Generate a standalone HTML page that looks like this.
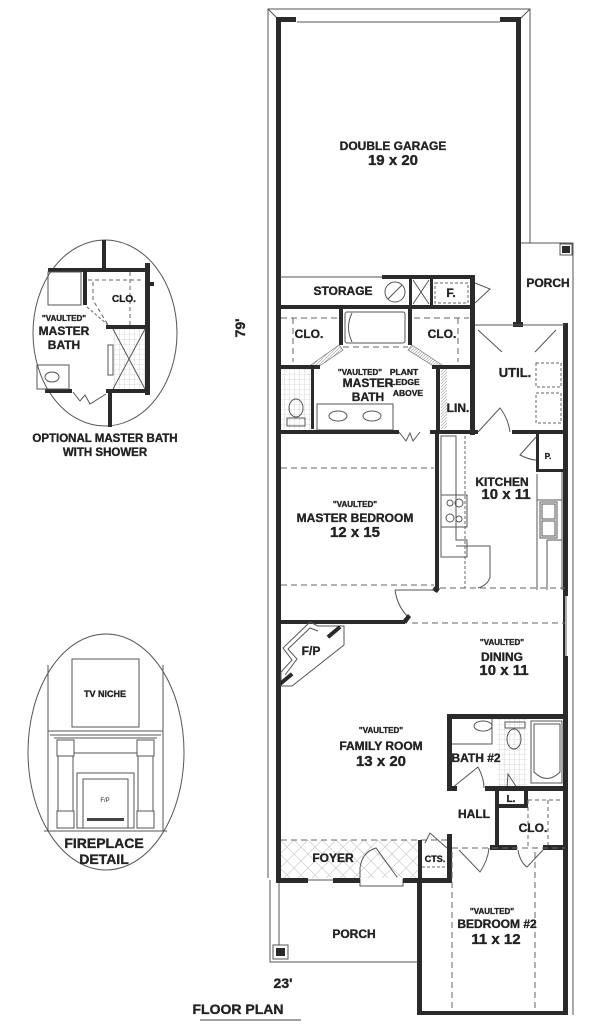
<!DOCTYPE html>
<html><head><meta charset="utf-8"><style>
html,body{margin:0;padding:0;background:#fff;width:600px;height:1029px;overflow:hidden}
svg{display:block}
text{font-family:"Liberation Sans",Arial,sans-serif;font-weight:bold;fill:#222;text-anchor:middle;stroke:#222;stroke-width:0.35}
.w{fill:#2a2a2a}
.t{fill:none;stroke:#555;stroke-width:1}
.d{fill:none;stroke:#666;stroke-width:1;stroke-dasharray:6 4}
</style></head><body>
<svg width="600" height="1029" viewBox="0 0 600 1029" xmlns="http://www.w3.org/2000/svg">
<defs>
<pattern id="grid" width="5" height="5" patternUnits="userSpaceOnUse"><path d="M5 0V5H0" fill="none" stroke="#bbb" stroke-width="0.6"/></pattern>
<pattern id="xh" width="14" height="14" patternUnits="userSpaceOnUse"><path d="M0 0L14 14M14 0L0 14" stroke="#ccc" stroke-width="0.7"/></pattern>
<pattern id="hat" width="3" height="3" patternUnits="userSpaceOnUse"><path d="M0 3L3 0" stroke="#aaa" stroke-width="0.7"/></pattern>
</defs>

<path class="t" d="M268 878V9H530V243"/>
<path class="t" d="M268 9L278 19M530 9L520 19"/>
<line class="t" x1="297" y1="22" x2="500" y2="22"/>
<path class="t" d="M521 243H573V325"/>
<rect x="560" y="244" width="12" height="11" class="t"/><rect x="562" y="246" width="8" height="7" class="w"/>
<line class="t" x1="573" y1="325" x2="573" y2="1015"/>

<rect class="w" x="276" y="17" width="5" height="864"/>
<rect class="w" x="276" y="17" width="20" height="5"/>
<rect class="w" x="500" y="17" width="21" height="5"/>
<rect class="w" x="516" y="17" width="5" height="310"/>
<rect class="w" x="513" y="322" width="10" height="5"/>

<line class="t" x1="280" y1="277" x2="382" y2="277"/>
<rect class="w" x="382" y="275" width="93" height="4"/>
<rect class="w" x="278" y="305" width="197" height="4"/>
<circle cx="395" cy="292" r="10" class="t"/><line class="t" x1="388" y1="299" x2="402" y2="285"/>
<rect class="w" x="409" y="277" width="3" height="30"/>
<rect class="w" x="430" y="277" width="3" height="30"/>
<path class="t" d="M413 280L429 304M429 280L413 304"/>
<rect class="d" x="435" y="283" width="33" height="20" style="stroke-dasharray:3 2"/>
<path class="t" d="M475 283L490 289L475 303"/>

<rect class="w" x="470" y="277" width="5" height="158"/>
<rect class="w" x="339" y="307" width="4" height="38"/>
<rect class="w" x="408" y="307" width="4" height="38"/>
<rect class="t" x="345" y="312" width="60" height="31" rx="2"/>
<path class="t" d="M352 313Q345 327 352 342"/>
<line class="d" x1="343" y1="347" x2="408" y2="347"/>
<line class="d" x1="281" y1="318" x2="337" y2="318"/><line class="d" x1="414" y1="318" x2="469" y2="318"/>
<line class="d" x1="293" y1="318" x2="293" y2="362"/><line class="d" x1="458" y1="318" x2="458" y2="362"/>
<path fill="url(#hat)" stroke="#777" stroke-width="0.7" d="M339 345L308 367L318 367L343 350Z"/>
<path fill="url(#hat)" stroke="#777" stroke-width="0.7" d="M412 345L445 367L435 367L408 350Z"/>
<text x="309" y="338" font-size="12">CLO.</text>
<text x="442" y="338" font-size="12">CLO.</text>
<rect class="w" x="278" y="365" width="42" height="4"/>
<rect x="281" y="369" width="30" height="60" fill="url(#grid)"/>
<rect class="w" x="311" y="369" width="3" height="60"/>
<ellipse class="t" cx="296" cy="408" rx="7" ry="9"/><rect class="t" x="287" y="418" width="18" height="8"/>
<rect class="w" x="432" y="365" width="43" height="4"/>
<rect class="w" x="436" y="365" width="4" height="66"/>
<rect x="441" y="369" width="6" height="60" fill="url(#hat)"/>
<text x="458" y="412" font-size="12">LIN.</text>
<rect class="t" x="317" y="404" width="76" height="26"/>
<ellipse class="t" cx="338" cy="416" rx="9" ry="5"/><ellipse class="t" cx="372" cy="416" rx="9" ry="5"/>
<text x="360" y="375" font-size="8">"VAULTED"</text>
<text x="368" y="387" font-size="12">MASTER</text>
<text x="368" y="401" font-size="12">BATH</text>
<text x="404" y="375" font-size="8.5">PLANT</text>
<text x="405" y="385" font-size="8.5">LEDGE</text>
<text x="408" y="396" font-size="8.5">ABOVE</text>
<rect class="w" x="278" y="430" width="121" height="4"/>
<rect class="w" x="430" y="430" width="48" height="4"/>
<rect class="w" x="512" y="430" width="55" height="4"/>
<path class="t" d="M399 432L406 441L410 433L413 441L420 432"/>
<text x="343" y="295" font-size="12">STORAGE</text>
<text x="451" y="297" font-size="12">F.</text>

<rect class="w" x="563" y="323" width="5" height="380"/>
<line class="t" x1="475" y1="325" x2="565" y2="325"/>
<path class="t" d="M478 330L502 352M556 330L535 352M478 432L500 408Q508 418 510 432"/>
<text x="515" y="377" font-size="13">UTIL.</text>
<rect class="d" x="536" y="363" width="25" height="24" style="stroke-dasharray:3 2"/>
<rect class="d" x="536" y="393" width="25" height="30" style="stroke-dasharray:3 2"/>

<text x="393" y="150" font-size="12">DOUBLE GARAGE</text>
<text x="393" y="165" font-size="15">19 x 20</text>

<rect class="w" x="435" y="432" width="4" height="157"/>
<path class="w" d="M435 586L440 589L437 593L432 590Z"/>
<path class="t" d="M441 436V557H467V540H456V436Z"/>
<line class="d" x1="465" y1="436" x2="465" y2="588" style="stroke-dasharray:3 2"/>
<path class="t" d="M456 546H490V577Q488 585 478 588"/>
<rect class="t" x="441" y="495" width="26" height="32"/>
<circle class="t" cx="450" cy="503" r="3"/><circle class="t" cx="459" cy="503" r="4"/>
<circle class="t" cx="450" cy="518" r="4"/><circle class="t" cx="459" cy="519" r="3"/>
<line class="d" x1="440" y1="588" x2="565" y2="588"/>
<rect class="w" x="536" y="434" width="3" height="37"/>
<rect class="w" x="536" y="469" width="29" height="3"/>
<path class="t" d="M536 437L520 455Q530 460 536 460"/>
<text x="548" y="459" font-size="8">P.</text>
<path class="t" d="M537 474V590M537 500H562M562 472V590M547 540V590M547 540H562"/>
<rect class="t" x="540" y="502" width="17" height="36"/>
<rect class="t" x="542" y="504" width="13" height="15"/><rect class="t" x="542" y="521" width="13" height="15"/>
<text x="502" y="486" font-size="12">KITCHEN</text>
<text x="506" y="499" font-size="15">10 x 11</text>

<line class="d" x1="281" y1="468" x2="434" y2="468"/>
<line class="d" x1="281" y1="585" x2="434" y2="585"/>
<rect class="w" x="278" y="620" width="127" height="4"/>
<path class="w" d="M403 620L408 614L411 617L406 624Z"/>
<path class="t" d="M395 590H434M395 590Q397 605 407 616"/>
<line class="d" x1="412" y1="623" x2="565" y2="623"/>
<text x="355" y="507" font-size="8">"VAULTED"</text>
<text x="355" y="522" font-size="12">MASTER BEDROOM</text>
<text x="355" y="537" font-size="15">12 x 15</text>

<path class="t" d="M281 686H292L344 645V626H318L310 622L283 648L292 660L281 672Z"/>
<path class="t" d="M285 675L297 659L288 649L310 628L318 631"/>
<rect class="w" x="326" y="630" width="16" height="4" transform="rotate(-40 334 632)"/>
<rect class="w" x="278" y="677" width="16" height="4" transform="rotate(-40 286 679)"/>
<text x="311" y="655" font-size="12">F/P</text>

<rect x="565" y="596" width="4" height="60" fill="#fff"/>
<line class="t" x1="566" y1="596" x2="566" y2="656"/>
<text x="502" y="645" font-size="8">"VAULTED"</text>
<text x="502" y="661" font-size="12">DINING</text>
<text x="504" y="675" font-size="15">10 x 11</text>

<text x="381" y="733" font-size="8">"VAULTED"</text>
<text x="381" y="750" font-size="12">FAMILY ROOM</text>
<text x="381" y="766" font-size="15">13 x 20</text>

<rect class="w" x="563" y="700" width="5" height="315"/>
<rect class="w" x="447" y="714" width="120" height="5"/>
<rect class="w" x="447" y="714" width="5" height="76"/>
<rect x="497" y="719" width="30" height="68" fill="url(#grid)"/>
<path class="t" d="M452 744H492V719"/>
<ellipse class="t" cx="483" cy="726" rx="9" ry="5"/>
<rect class="t" x="505" y="722" width="20" height="6"/><ellipse class="t" cx="514" cy="739" rx="7" ry="10"/>
<rect class="t" x="531" y="721" width="31" height="62"/>
<path class="t" d="M534 724V772Q547 785 560 772V724Z"/>
<text x="476" y="762" font-size="12">BATH #2</text>
<path class="t" d="M452 788L478 767Q484 778 484 788M507 788L508 774L517 788"/>
<rect class="w" x="447" y="786" width="10" height="5"/>
<rect class="w" x="485" y="786" width="82" height="5"/>
<rect class="w" x="495" y="786" width="4" height="62"/>
<rect class="w" x="524" y="786" width="4" height="20"/>
<rect class="w" x="495" y="804" width="33" height="4"/>
<text x="511" y="802" font-size="10">L.</text>
<path class="d" d="M528 800H562M528 800V846M548 800V846" style="stroke-dasharray:4 3"/>
<text x="533" y="832" font-size="12">CLO.</text>
<text x="474" y="818" font-size="12">HALL</text>
<rect class="w" x="490" y="845" width="27" height="5"/>
<rect class="w" x="543" y="845" width="24" height="5"/>
<path class="t" d="M459 850L480 872Q488 860 489 848M518 850Q520 862 527 867L543 850"/>
<line class="d" x1="452" y1="848" x2="565" y2="848"/>
<rect class="w" x="447" y="834" width="5" height="48"/>

<rect x="281" y="840" width="137" height="38" fill="url(#xh)"/>
<line class="d" x1="281" y1="840" x2="447" y2="840"/>
<text x="333" y="862" font-size="12">FOYER</text>
<path class="t" d="M360 878V868Q362 852 376 848L397 877"/>
<path class="t" d="M360 879V886H403V879"/>
<rect class="w" x="276" y="878" width="32" height="5"/>
<rect class="w" x="333" y="878" width="27" height="5"/>
<rect class="w" x="403" y="878" width="49" height="5"/>
<line class="t" x1="308" y1="880" x2="333" y2="880"/>
<rect class="w" x="418" y="840" width="4" height="40"/>
<path class="t" d="M425 843L430 833L447 848"/>
<text x="435" y="862" font-size="9">CTS.</text>
<line class="d" x1="422" y1="867" x2="447" y2="867" style="stroke-dasharray:3 2"/>

<rect class="w" x="417" y="878" width="5" height="137"/>
<rect class="w" x="417" y="1011" width="150" height="4"/>
<line class="d" x1="452" y1="852" x2="452" y2="1010"/>
<line class="d" x1="535" y1="852" x2="535" y2="1010"/>
<text x="492" y="914" font-size="8">"VAULTED"</text>
<text x="497" y="928" font-size="12">BEDROOM #2</text>
<text x="496" y="944" font-size="15">11 x 12</text>

<path class="t" d="M270 880V962H418"/>
<line class="t" x1="279" y1="883" x2="279" y2="945"/>
<rect class="t" x="273" y="945" width="15" height="14"/><rect class="w" x="276" y="948" width="9" height="8"/>
<text x="354" y="938" font-size="12">PORCH</text>
<text x="548" y="287" font-size="12">PORCH</text>

<text x="283" y="988" font-size="14">23'</text>
<text x="0" y="0" font-size="14" transform="translate(245 328) rotate(-90)">79'</text>
<text x="238" y="1014" font-size="14">FLOOR PLAN</text>
<line x1="200" y1="1020" x2="301" y2="1020" stroke="#444" stroke-width="1"/>

<ellipse class="t" cx="105" cy="333" rx="72" ry="93"/>
<rect class="w" x="102" y="240" width="4" height="30"/>
<rect class="w" x="48" y="268" width="102" height="4"/>
<rect class="w" x="145" y="263" width="5" height="132"/>
<rect class="w" x="150" y="282" width="4" height="4"/>
<rect class="w" x="83" y="270" width="4" height="35"/>
<rect class="t" x="48" y="272" width="33" height="33"/>
<path class="d" d="M88 280H144M130 272V325M93 282V300L108 325" style="stroke-dasharray:4 3"/>
<line class="d" x1="87" y1="307" x2="108" y2="325" style="stroke-dasharray:3 2"/>
<text x="124" y="302" font-size="10">CLO.</text>
<rect class="w" x="106" y="325" width="44" height="4"/>
<rect x="113" y="329" width="32" height="60" fill="url(#grid)"/>
<path class="t" d="M113 329L145 389M145 329L113 389"/>
<rect class="t" x="108" y="345" width="5" height="30"/>
<rect class="w" x="106" y="389" width="44" height="4"/>
<rect class="w" x="45" y="389" width="27" height="4"/>
<rect class="w" x="108" y="389" width="4" height="38"/>
<path class="t" d="M73 392L80 401L85 395L90 404L106 394"/>
<rect class="t" x="37" y="365" width="32" height="24"/>
<ellipse class="t" cx="52" cy="377" rx="7" ry="5"/>
<text x="64" y="321" font-size="8">"VAULTED"</text>
<text x="64" y="335" font-size="12">MASTER</text>
<text x="64" y="349" font-size="12">BATH</text>
<text x="105" y="442" font-size="11.5">OPTIONAL MASTER BATH</text>
<text x="105" y="456" font-size="11.5">WITH SHOWER</text>

<ellipse class="t" cx="106" cy="752" rx="78" ry="118"/>
<path class="t" d="M48 665V831M163 665V831M44 831H167"/>
<rect class="t" x="72" y="659" width="67" height="68"/>
<text x="105" y="697" font-size="9">TV NICHE</text>
<path class="t" d="M48 731H163M50 735H161M54 738H157"/>
<rect class="t" x="57" y="740" width="17" height="16"/><rect class="t" x="58" y="756" width="15" height="55"/><rect class="t" x="57" y="811" width="17" height="17"/>
<rect class="t" x="137" y="740" width="17" height="16"/><rect class="t" x="138" y="756" width="15" height="55"/><rect class="t" x="137" y="811" width="17" height="17"/>
<line class="t" x1="74" y1="753" x2="137" y2="753"/>
<rect class="t" x="77" y="773" width="57" height="55"/>
<rect class="t" x="83" y="779" width="45" height="49"/>
<text x="105" y="802" font-size="6" style="font-weight:normal;stroke:none">F/P</text>
<rect x="87" y="818" width="37" height="3" fill="#444"/>
<text x="104" y="848" font-size="14">FIREPLACE</text>
<text x="104" y="864" font-size="14">DETAIL</text>
</svg>
</body></html>
